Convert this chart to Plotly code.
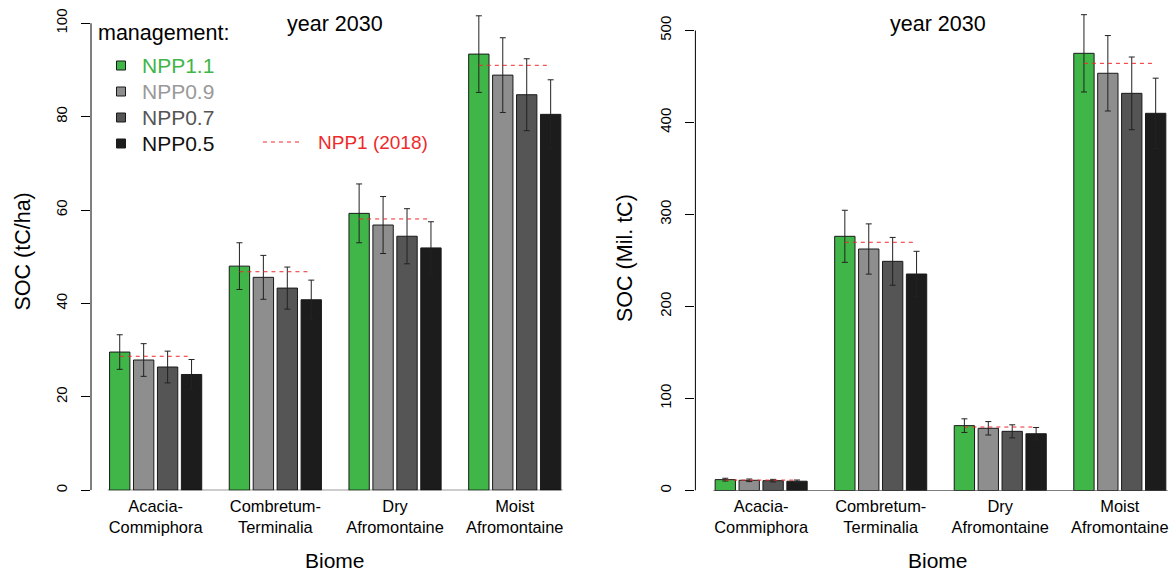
import plotly.graph_objects as go

W, H = 1173, 572

biomes = ["Acacia-<br>Commiphora", "Combretum-<br>Terminalia", "Dry<br>Afromontaine", "Moist<br>Afromontaine"]
scenarios = ["NPP1.1", "NPP0.9", "NPP0.7", "NPP0.5"]
colors = ["#40B548", "#8E8E8E", "#555555", "#1C1C1C"]
text_colors = ["#40B548", "#999999", "#555555", "#111111"]

# Left panel: SOC (tC/ha), year 2030
soc_ha_npp11 = [29.6, 48.0, 59.3, 93.4]
soc_ha_npp09 = [27.9, 45.6, 56.8, 88.9]
soc_ha_npp07 = [26.4, 43.3, 54.4, 84.7]
soc_ha_npp05 = [24.8, 40.8, 51.9, 80.5]
err_ha_npp11 = [3.7, 5.0, 6.3, 8.2]
err_ha_npp09 = [3.5, 4.7, 6.1, 8.0]
err_ha_npp07 = [3.4, 4.5, 5.9, 7.7]
err_ha_npp05 = [3.2, 4.2, 5.6, 7.4]
ref_ha_2018 = [28.7, 46.8, 58.1, 91.0]

# Right panel: SOC (Mil. tC), year 2030
soc_mil_npp11 = [11.8, 276.3, 70.5, 475.2]
soc_mil_npp09 = [11.1, 262.5, 67.6, 453.5]
soc_mil_npp07 = [10.7, 249.1, 64.3, 431.7]
soc_mil_npp05 = [10.1, 235.3, 61.7, 410.0]
err_mil_npp11 = [1.5, 28.3, 7.4, 42.0]
err_mil_npp09 = [1.4, 27.3, 7.3, 41.0]
err_mil_npp07 = [1.4, 26.0, 7.1, 39.5]
err_mil_npp05 = [1.3, 24.7, 6.8, 38.2]
ref_mil_2018 = [11.3, 269.8, 69.0, 464.3]

left_ticks = [0, 20, 40, 60, 80, 100]
right_ticks = [0, 100, 200, 300, 400, 500]

FONT = "Liberation Sans, Arial, Helvetica, sans-serif"
RED = "#EE2A2A"

def px(x):
    return x / W

def py(y):
    return 1 - y / H

fig = go.Figure()
xs = list(range(len(biomes)))

left_vals = [soc_ha_npp11, soc_ha_npp09, soc_ha_npp07, soc_ha_npp05]
left_errs = [err_ha_npp11, err_ha_npp09, err_ha_npp07, err_ha_npp05]
right_vals = [soc_mil_npp11, soc_mil_npp09, soc_mil_npp07, soc_mil_npp05]
right_errs = [err_mil_npp11, err_mil_npp09, err_mil_npp07, err_mil_npp05]

for vals, errs, ax in [(left_vals, left_errs, ("x", "y")), (right_vals, right_errs, ("x2", "y2"))]:
    for name, col, v, e in zip(scenarios, colors, vals, errs):
        fig.add_trace(go.Bar(
            x=xs, y=v, name=name, xaxis=ax[0], yaxis=ax[1],
            marker=dict(color=col, line=dict(color="#1a1a1a", width=1)),
            error_y=dict(type="data", array=e, color="#222222", thickness=1, width=3),
            showlegend=False,
        ))

def ref_line(ref):
    lx, ly = [], []
    for i, r in enumerate(ref):
        lx += [i - 0.3, i + 0.3, None]
        ly += [r, r, None]
    return lx, ly

for ref, ax in [(ref_ha_2018, ("x", "y")), (ref_mil_2018, ("x2", "y2"))]:
    lx, ly = ref_line(ref)
    fig.add_trace(go.Scatter(x=lx, y=ly, mode="lines", xaxis=ax[0], yaxis=ax[1],
                             line=dict(color=RED, width=1, dash="4px,4px"),
                             showlegend=False, hoverinfo="skip"))

# geometry (pixels)
L_x0, L_x1 = 91, 574.6
L_ybot, L_ytop = 490.3, 4.6
R_x0, R_x1 = 695.4, 1173
R_ybot, R_ytop = 490.5, 2.9

common_x = dict(tickmode="array", tickvals=xs, ticktext=biomes, showline=False,
                showgrid=False, zeroline=False, ticks="", automargin=False,
                ticklabelstandoff=4, tickfont=dict(size=16.4, family=FONT))
common_y = dict(showline=False, showgrid=False, zeroline=False, ticks="outside",
                ticklen=9, tickcolor="black", tickwidth=1, tickangle=-90, automargin=False,
                tickmode="array", ticklabelstandoff=8, tickfont=dict(size=15, family=FONT))

fig.update_layout(
    width=W, height=H,
    margin=dict(l=0, r=0, t=0, b=0),
    paper_bgcolor="white", plot_bgcolor="white",
    font=dict(family=FONT, color="black"),
    barmode="group", bargap=0.2, bargroupgap=0.15,
    showlegend=False,
    xaxis=dict(domain=[px(L_x0), px(L_x1)], range=[-0.54, 3.5], anchor="y", **common_x),
    yaxis=dict(domain=[py(L_ybot), py(L_ytop)], range=[0, 104], anchor="x",
               tickvals=left_ticks, **common_y),
    xaxis2=dict(domain=[px(R_x0), px(R_x1)], range=[-0.55, 3.445], anchor="y2", **common_x),
    yaxis2=dict(domain=[py(R_ybot), py(R_ytop)], range=[0, 530], anchor="x2",
                tickvals=right_ticks, **common_y),
)

shapes = [
    dict(type="line", xref="paper", yref="y", x0=px(L_x0), x1=px(L_x0), y0=0, y1=100,
         line=dict(color="black", width=1)),
    dict(type="line", xref="paper", yref="y2", x0=px(R_x0), x1=px(R_x0), y0=0, y1=500,
         line=dict(color="black", width=1)),
    dict(type="line", xref="x", yref="y", x0=-0.4, x1=3.4, y0=0, y1=0,
         line=dict(color="black", width=1)),
    dict(type="line", xref="x2", yref="y2", x0=-0.4, x1=3.4, y0=0, y1=0,
         line=dict(color="black", width=1)),
]

def ann(text, x, y, size, xanchor="center", color="black", angle=0):
    return dict(text=text, x=px(x), y=py(y), xref="paper", yref="paper",
                xanchor=xanchor, yanchor="middle", showarrow=False, textangle=angle,
                font=dict(size=size, family=FONT, color=color))

annotations = [
    ann("year 2030", 335, 24, 21.5),
    ann("year 2030", 938, 24, 21.5),
    ann("SOC (tC/ha)", 22.5, 252, 21.5, angle=-90),
    ann("SOC (Mil. tC)", 625, 258, 21.5, angle=-90),
    ann("Biome", 335, 560, 21),
    ann("Biome", 938, 560, 21),
    ann("management:", 96, 33, 21.5, xanchor="left"),
    ann("NPP1 (2018)", 316, 142, 19, xanchor="left", color=RED),
]

legend_y = [65.5, 91.5, 117.5, 143.5]
for name, col, tcol, ly in zip(scenarios, colors, text_colors, legend_y):
    shapes.append(dict(type="rect", xref="paper", yref="paper",
                       x0=px(116.5), x1=px(125.5), y0=py(ly + 4.5), y1=py(ly - 4.5),
                       fillcolor=col, line=dict(color="#1a1a1a", width=1)))
    annotations.append(ann(name, 140, ly, 21, xanchor="left", color=tcol))

shapes.append(dict(type="line", xref="paper", yref="paper", x0=px(263), x1=px(300),
                   y0=py(142), y1=py(142), line=dict(color=RED, width=1, dash="4px,4px")))

fig.update_layout(shapes=shapes, annotations=annotations)

fig.write_html("out.html", config={"displayModeBar": False},
               post_script="document.body.style.margin='0';document.body.style.overflow='hidden';")
